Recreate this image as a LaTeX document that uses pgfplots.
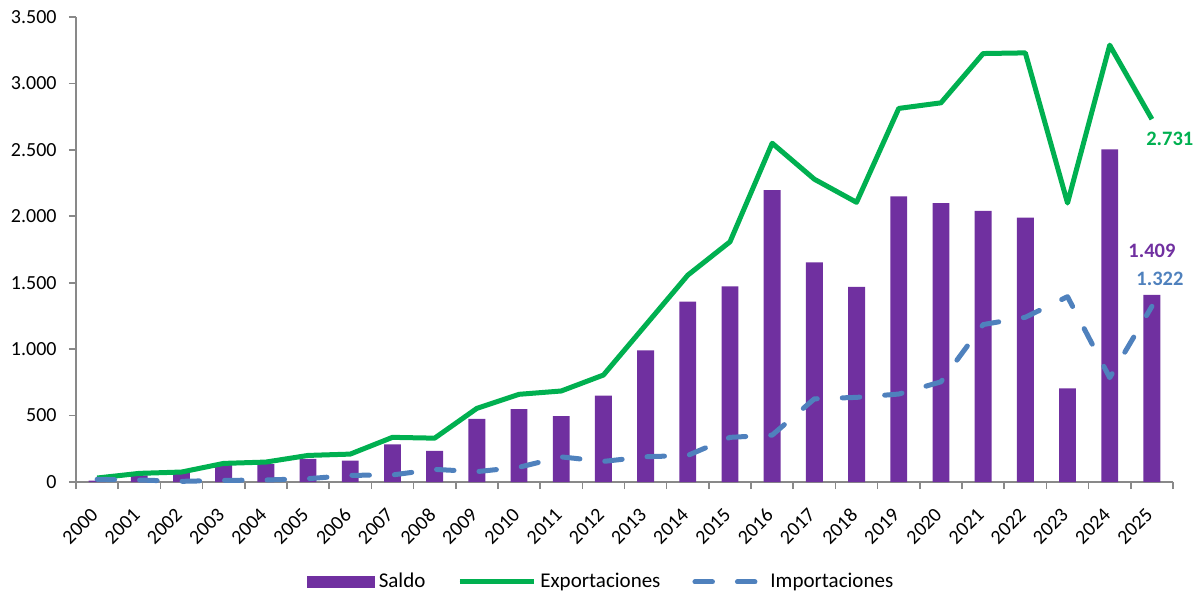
\documentclass[border=0pt]{standalone}
\usepackage{fontspec}
\setmainfont{Carlito}
\usepackage{pgfplots}
\pgfplotsset{compat=1.18}
\usepackage{pgfplotstable}
\definecolor{saldo}{HTML}{7030A0}
\definecolor{expo}{HTML}{00B050}
\definecolor{impo}{HTML}{4F81BD}
\definecolor{axgray}{HTML}{898989}

\pgfplotstableread{
x year saldo expo impo
0 2000 10 30 20
1 2001 50 65 15
2 2002 70 75 5
3 2003 128 140 12
4 2004 135 150 15
5 2005 175 200 25
6 2006 160 210 50
7 2007 283 336 53
8 2008 235 330 95
9 2009 476 554 78
10 2010 549 660 111
11 2011 496 685 189
12 2012 650 805 155
13 2013 991 1181 190
14 2014 1357 1557 200
15 2015 1472 1808 336
16 2016 2197 2550 353
17 2017 1653 2279 626
18 2018 1468 2105 637
19 2019 2150 2812 662
20 2020 2100 2854 754
21 2021 2040 3225 1185
22 2022 1990 3230 1240
23 2023 705 2100 1395
24 2024 2503 3288 785
25 2025 1409 2731 1322
}\data

\newcommand{\lblfont}{\fontsize{10bp}{12bp}\selectfont}
\newcommand{\legfont}{\fontsize{10.5bp}{12.5bp}\selectfont}

\begin{document}
\begin{tikzpicture}
\useasboundingbox (-38bp,-56bp) rectangle (561.5bp,241bp);
\begin{axis}[
  at={(0,0)}, anchor=south west, scale only axis,
  width=548.5bp, height=232.5bp,
  xmin=-0.5, xmax=25.5, ymin=0, ymax=3500,
  clip=false,
  axis lines*=left,
  axis line style={axgray, line width=0.8bp},
  tick align=outside, major tick length=0pt, minor tick length=3.5bp,
  tick style={axgray, line width=0.8bp},
  ytick={0,500,...,3500}, minor ytick={0,500,...,3500}, scaled y ticks=false,
  yticklabel style={/pgf/number format/1000 sep={.}, font=\lblfont, text=black, xshift=-6.2bp},
  /pgf/number format/assume math mode=true,
  xtick={0,1,...,25},
  xticklabels={2000,2001,2002,2003,2004,2005,2006,2007,2008,2009,2010,2011,2012,2013,2014,2015,2016,2017,2018,2019,2020,2021,2022,2023,2024,2025},
  minor xtick={-0.5,0.5,...,25.5},
  xticklabel style={rotate=45, anchor=north east, font=\lblfont, text=black, inner sep=0.5bp, xshift=-10.8bp, yshift=-5.6bp},
  legend columns=3,
  legend style={draw=none, at={(0.4795,-0.215)}, anchor=center, font=\legfont,
    /tikz/every even column/.append style={column sep=14bp}},
]
\addplot[ybar, bar width=0.4, fill=saldo, draw=none,
  legend image code/.code={\fill[saldo] (0bp,-2.9bp) rectangle (34bp,2.9bp);}]
  table[x=x, y=saldo]{\data};
\addlegendentry{Saldo}
\addplot[expo, line width=2.5bp, mark=none, line join=round,
  legend image code/.code={\draw[expo, line width=2.5bp, line cap=round] (1.25bp,0bp) -- (35.75bp,0bp);\path (0,0) -- (37bp,0);}]
  table[x=x, y=expo]{\data};
\addlegendentry{Exportaciones}
\addplot[impo, line width=2.5bp, mark=none, line cap=round, line join=round,
  dash pattern=on 8.75bp off 12.5bp,
  legend image code/.code={\draw[impo, line width=2.5bp, line cap=round, dash pattern=on 6bp off 14.5bp] (1.25bp,0bp) -- (28bp,0bp);\path (0,0) -- (34.5bp,0);}]
  table[x=x, y=impo]{\data};
\addlegendentry{Importaciones}
\node[font=\bfseries\fontsize{10.25bp}{12bp}\selectfont, text=expo, anchor=north west, inner sep=0pt, xshift=-3bp, yshift=-6bp] at (axis cs:25,2731) {2.731};
\node[font=\bfseries\fontsize{10.25bp}{12bp}\selectfont, text=saldo, anchor=south, inner sep=0pt, yshift=18.5bp] at (axis cs:25,1409) {1.409};
\node[font=\bfseries\fontsize{10.25bp}{12bp}\selectfont, text=impo, anchor=south, inner sep=0pt, xshift=4bp, yshift=10bp] at (axis cs:25,1322) {1.322};
\end{axis}
\end{tikzpicture}
\end{document}
